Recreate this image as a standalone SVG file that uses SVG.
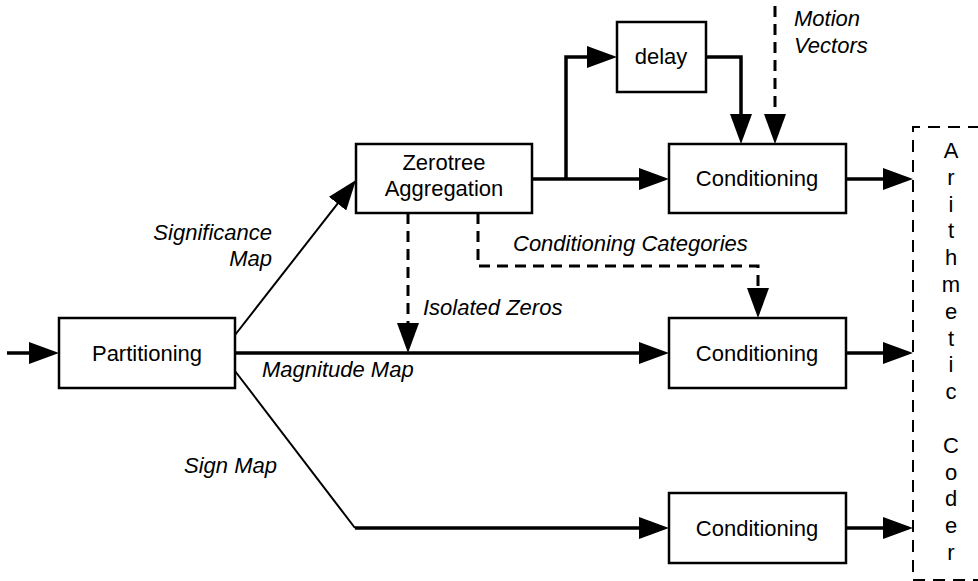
<svg xmlns="http://www.w3.org/2000/svg" width="978" height="581" viewBox="0 0 978 581">
  <style>
    .box { fill: #ffffff; stroke: #000000; stroke-width: 2.5; }
    .lbl { font-family: "Liberation Sans", Arial, sans-serif; font-size: 22px; fill: #000000; }
    .mid { text-anchor: middle; }
    .it { font-style: italic; }
    .wire { fill: none; stroke: #000000; stroke-width: 3.5; stroke-linejoin: miter; }
    .thin { fill: none; stroke: #000000; stroke-width: 2; }
    .dash { fill: none; stroke: #000000; stroke-width: 3; stroke-dasharray: 11 7; }
    .frame { fill: none; stroke: #000000; stroke-width: 2; stroke-dasharray: 12 8; }
  </style>
  <defs>
    <marker id="arrow" markerUnits="userSpaceOnUse" viewBox="0 0 30 22" markerWidth="30" markerHeight="22" refX="22" refY="11" orient="auto">
      <path d="M0,0 L30,11 L0,22 Z" fill="#000000" stroke="none"/>
    </marker>
  </defs>

  <rect width="978" height="581" fill="#ffffff"/>

  <!-- connectors -->
  <g id="connectors">
    <path class="wire" d="M7,353 H51" marker-end="url(#arrow)"/>
    <path class="wire" d="M235,353 H661" marker-end="url(#arrow)"/>
    <path class="thin" d="M235,335 L351.1,186.3" marker-end="url(#arrow)"/>
    <path class="thin" d="M235,371 L355,528"/>
    <path class="wire" d="M355,528 H661" marker-end="url(#arrow)"/>
    <path class="wire" d="M532,179 H661" marker-end="url(#arrow)"/>
    <path class="wire" d="M566,179 V57 H609" marker-end="url(#arrow)"/>
    <path class="wire" d="M706,57 H741 V136" marker-end="url(#arrow)"/>
    <path class="wire" d="M846,179 H905" marker-end="url(#arrow)"/>
    <path class="wire" d="M846,353 H905" marker-end="url(#arrow)"/>
    <path class="wire" d="M846,528 H905" marker-end="url(#arrow)"/>
    <path class="dash" d="M775,6 V136" marker-end="url(#arrow)"/>
    <path class="dash" d="M408,213 V345" marker-end="url(#arrow)"/>
    <path class="dash" d="M478,213 V266 H758 V310" marker-end="url(#arrow)"/>
  </g>

  <!-- connector labels -->
  <g id="labels" class="lbl it">
    <text x="272" y="240" text-anchor="end">Significance</text>
    <text x="272" y="266" text-anchor="end">Map</text>
    <text x="262" y="377">Magnitude Map</text>
    <text x="184" y="473">Sign Map</text>
    <text x="423" y="315">Isolated Zeros</text>
    <text x="513" y="251">Conditioning Categories</text>
    <text x="794" y="26">Motion</text>
    <text x="794" y="53">Vectors</text>
  </g>

  <g id="partitioning">
    <rect class="box" x="59" y="318" width="176" height="70"/>
    <text class="lbl mid" x="147" y="361">Partitioning</text>
  </g>

  <g id="zerotree">
    <rect class="box" x="356" y="144" width="176" height="69"/>
    <text class="lbl mid" x="444" y="170">Zerotree</text>
    <text class="lbl mid" x="444" y="196">Aggregation</text>
  </g>

  <g id="delay">
    <rect class="box" x="617" y="22" width="89" height="70"/>
    <text class="lbl mid" x="661" y="64">delay</text>
  </g>

  <g id="cond-top">
    <rect class="box" x="669" y="144" width="177" height="69"/>
    <text class="lbl mid" x="757" y="186">Conditioning</text>
  </g>

  <g id="cond-mid">
    <rect class="box" x="669" y="318" width="177" height="70"/>
    <text class="lbl mid" x="757" y="361">Conditioning</text>
  </g>

  <g id="cond-bot">
    <rect class="box" x="669" y="493" width="177" height="70"/>
    <text class="lbl mid" x="757" y="536">Conditioning</text>
  </g>

  <g id="arith-coder">
    <path class="frame" d="M980,127 H913 V580 H980"/>
    <g class="lbl mid">
      <text x="951" y="158">A</text>
      <text x="951" y="185">r</text>
      <text x="951" y="212">i</text>
      <text x="951" y="238">t</text>
      <text x="951" y="265">h</text>
      <text x="951" y="292">m</text>
      <text x="951" y="319">e</text>
      <text x="951" y="346">t</text>
      <text x="951" y="372">i</text>
      <text x="951" y="399">c</text>
      <text x="951" y="453">C</text>
      <text x="951" y="480">o</text>
      <text x="951" y="506">d</text>
      <text x="951" y="533">e</text>
      <text x="951" y="560">r</text>
    </g>
  </g>
</svg>
